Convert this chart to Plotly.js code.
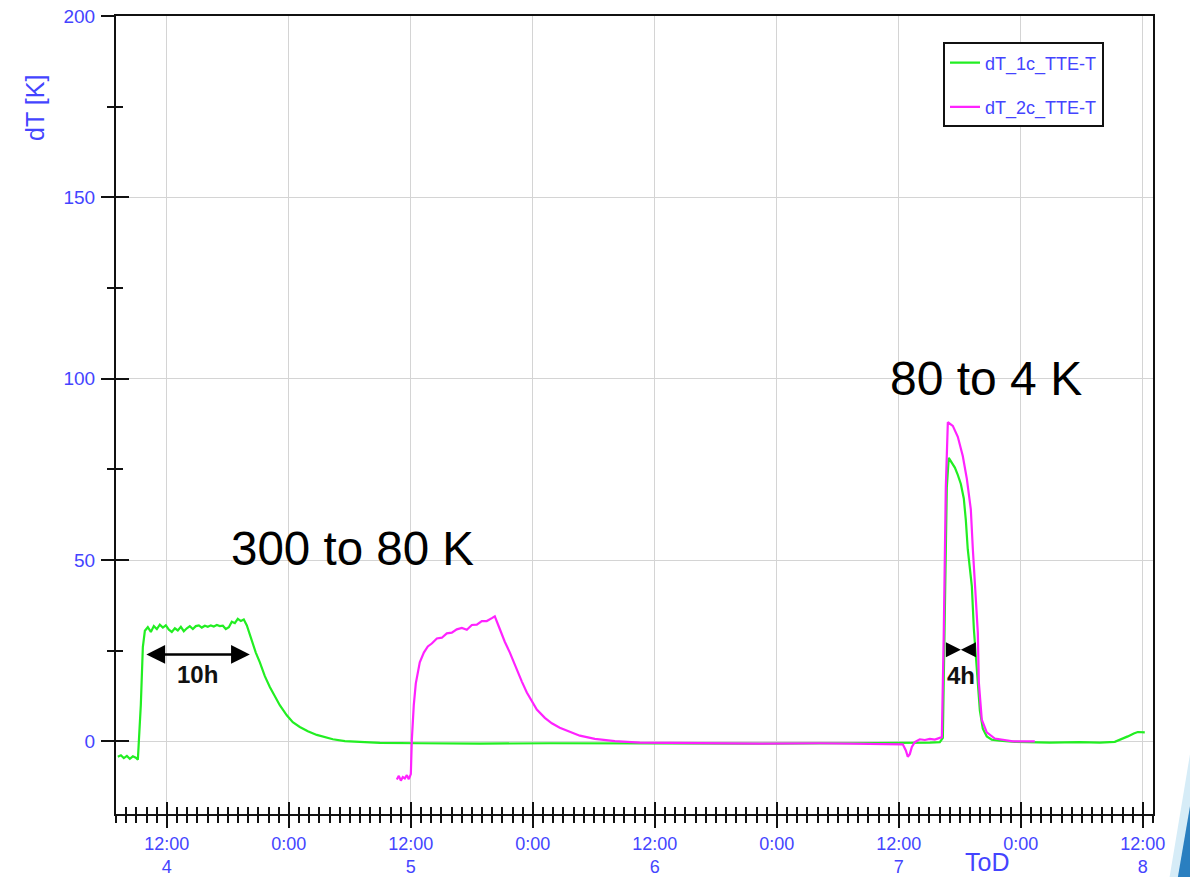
<!DOCTYPE html>
<html>
<head>
<meta charset="utf-8">
<script src="https://cdn.plot.ly/plotly-3.0.1.min.js"></script>
<style>html,body{margin:0;padding:0;background:#fff;}#chart{width:1190px;height:877px;}</style>
</head>
<body>
<div id="chart"></div>
<script>
// Time is given in hours counted from day 4, 00:00
const greenHours = [7.18,7.48,7.77,8.07,8.36,8.66,8.95,9.15,9.44,9.64,9.84,10.13,10.43,10.72,11.02,11.31,11.61,11.90,12.20,12.49,12.79,13.08,13.38,13.67,13.97,14.26,14.56,14.85,15.15,15.44,15.74,16.03,16.33,16.62,16.92,17.21,17.51,17.80,18.10,18.39,18.69,18.98,19.28,19.57,19.87,20.16,20.46,20.75,21.15,21.64,22.13,22.62,23.11,23.80,24.39,25.08,25.87,26.75,27.54,28.33,29.51,30.98,32.95,36.88,42.79,49.67,59.51,69.34,79.18,84.59,87.05,88.03,88.33,88.52,88.72,88.91,89.21,89.51,89.80,90.10,90.39,90.59,90.78,90.98,91.18,91.38,91.57,91.77,91.97,92.26,92.65,93.14,93.93,95.41,98.85,101.80,103.77,105.24,105.93,106.52,107.11,107.50,108.19];
const greenValues = [-4.2,-3.8,-4.6,-4.0,-4.8,-4.1,-4.5,-5.0,10,26,30.5,31.5,30.2,31.8,31.0,32.2,31.4,32.0,30.8,30.2,31.2,30.6,31.6,30.4,31.2,31.8,31.0,31.8,32.0,31.4,31.9,31.6,32.0,31.7,32.1,31.8,31.9,31.0,31.5,33.0,32.6,33.8,33.2,33.6,32.0,29.5,27.0,24.5,21.8,18.0,15.0,12.3,10.0,7.2,5.3,4.0,2.8,1.8,1.1,0.6,0.1,-0.2,-0.4,-0.5,-0.6,-0.5,-0.6,-0.6,-0.5,-0.5,-0.3,-0.2,1.0,35,70,78.2,77.0,75.5,73.5,71.0,67.0,61.0,53.0,48.0,42.8,31.0,23.0,15.0,8.5,3.5,1.4,0.5,0.2,-0.1,-0.3,-0.2,-0.3,-0.1,0.6,1.4,2.2,2.6,2.5];

const magentaHours = [34.62,34.82,35.02,35.21,35.41,35.61,35.80,36.00,36.10,36.29,36.49,36.88,37.28,37.67,38.06,38.56,39.05,39.54,40.03,40.52,41.02,41.51,42.00,42.49,42.98,43.47,43.97,44.26,44.75,45.24,45.74,46.43,46.92,47.41,47.90,48.39,49.18,49.87,50.65,51.64,52.62,54.10,56.06,58.52,64.42,70.33,76.23,82.13,84.39,84.69,84.88,85.08,85.28,85.57,86.06,86.56,87.05,87.54,88.03,88.23,88.42,88.62,88.82,89.31,89.80,90.29,90.69,91.08,91.28,91.57,91.77,91.87,92.16,92.65,93.44,95.21,97.37];
const magentaValues = [-10.5,-9.5,-10.8,-9.8,-10.2,-9.3,-10.4,-9.0,0.5,10.0,16.0,21.8,24.5,26.2,27.0,28.4,28.6,29.8,30.0,30.9,31.3,30.8,32.1,32.2,33.2,33.2,34.0,34.5,31.0,27.5,24.5,19.5,16.5,13.5,11.0,8.8,6.5,5.0,3.8,2.6,1.6,0.7,0.1,-0.3,-0.5,-0.6,-0.5,-0.6,-0.8,-2.5,-4.2,-3.5,-1.5,-0.2,0.6,0.4,0.7,0.5,1.0,1.2,30,70,88.0,87.0,84.0,78.7,72.4,64.0,53.0,41.0,30.0,16.3,6.0,2.5,0.8,0.0,0.0];

const seriesNames = ['dT_1c_TTE-T', 'dT_2c_TTE-T'];
const xTickHours = [12,24,36,48,60,72,84,96,108];
const xTickText = ['12:00<br>4','0:00','12:00<br>5','0:00','12:00<br>6','0:00','12:00<br>7','0:00','12:00<br>8'];
const yTickValues = [0,50,100,150,200];
const xRangeHours = [7,109];
const yRange = [-20,200];

function toDate(h){
  const ms = Date.UTC(2011,2,4) + Math.round(h*3600000);
  return new Date(ms).toISOString().slice(0,19).replace('T',' ');
}
const xRange = xRangeHours.map(toDate);
const xTicks = xTickHours.map(toDate);

const BLUE = '#4444ff';
const FONT = 'Arial, "Liberation Sans", sans-serif';

const traces = [
  {x: greenHours.map(toDate), y: greenValues, name: seriesNames[0], type:'scatter', mode:'lines',
   line:{color:'#22ee22', width:2.2}, legendgroup:'a'},
  {x: magentaHours.map(toDate), y: magentaValues, name: seriesNames[1], type:'scatter', mode:'lines',
   line:{color:'#ff22ff', width:2.2}, legendgroup:'b'},
  {x: [], y: [], xaxis:'x2', yaxis:'y', showlegend:false, hoverinfo:'skip'},
  {x: [], y: [], xaxis:'x', yaxis:'y2', showlegend:false, hoverinfo:'skip'}
];

const layout = {
  width:1190, height:877,
  margin:{l:116, r:37, t:16, b:63},
  paper_bgcolor:'#fff', plot_bgcolor:'#fff',
  font:{family:FONT, size:19, color:BLUE},
  showlegend:true,
  legend:{x:0.7975, y:0.967, xanchor:'left', yanchor:'top', bgcolor:'#fff', bordercolor:'#111', borderwidth:2,
          font:{family:FONT, size:18, color:BLUE}, traceorder:'grouped', tracegroupgap:18, itemwidth:30},
  xaxis:{type:'date', range:xRange, tickmode:'array', tickvals:xTicks, ticktext:xTickText,
         ticks:'outside', ticklen:12, tickwidth:2, tickcolor:'#111',
         showline:true, linecolor:'#111', linewidth:2, mirror:true,
         showgrid:true, gridcolor:'#d4d4d4', gridwidth:1, zeroline:false,
         tickfont:{family:FONT, size:18, color:BLUE},
         minor:{dtick:3600000, tick0:toDate(0), ticks:'outside', ticklen:7, tickwidth:2, tickcolor:'#111', showgrid:false}},
  xaxis2:{type:'date', overlaying:'x', anchor:'y', side:'bottom', range:xRange, tickmode:'array', tickvals:xTicks,
          showticklabels:false, ticks:'inside', ticklen:12, tickwidth:2, tickcolor:'#111',
          showline:false, showgrid:false, zeroline:false,
          minor:{dtick:3600000, tick0:toDate(0), ticks:'inside', ticklen:7, tickwidth:2, tickcolor:'#111', showgrid:false}},
  yaxis:{range:yRange, tickmode:'array', tickvals:yTickValues,
         ticks:'outside', ticklen:13, tickwidth:2, tickcolor:'#111',
         showline:true, linecolor:'#111', linewidth:2, mirror:true,
         showgrid:true, gridcolor:'#d4d4d4', gridwidth:1, zeroline:false,
         tickfont:{family:FONT, size:19, color:BLUE}, ticklabelstandoff:2,
         minor:{dtick:25, tick0:0, ticks:'outside', ticklen:7, tickwidth:2, tickcolor:'#111', showgrid:false}},
  yaxis2:{range:yRange, overlaying:'y', anchor:'x', side:'left', tickmode:'array', tickvals:yTickValues,
          showticklabels:false, ticks:'inside', ticklen:13, tickwidth:2, tickcolor:'#111',
          showline:false, showgrid:false, zeroline:false,
          minor:{dtick:25, tick0:0, ticks:'inside', ticklen:7, tickwidth:2, tickcolor:'#111', showgrid:false}},
  annotations:[
    {xref:'paper', yref:'paper', x:-0.078, y:0.885, text:'dT [K]', textangle:-90, showarrow:false,
     font:{family:FONT, size:25, color:BLUE}, xanchor:'center', yanchor:'middle'},
    {xref:'paper', yref:'paper', x:0.8395, y:-0.0785, text:'ToD', showarrow:false,
     font:{family:FONT, size:25, color:BLUE}, xanchor:'center', yanchor:'bottom', borderpad:0},
    {x:toDate(30.3), y:53.3, text:'300 to 80 K', showarrow:false, font:{family:FONT, size:47.5, color:'#000'}},
    {x:toDate(92.55), y:100, text:'80 to 4 K', showarrow:false, font:{family:FONT, size:48, color:'#000'}},
    {x:toDate(20.16), y:24, ax:toDate(9.84), ay:24, axref:'x', ayref:'y', text:'', showarrow:true,
     arrowside:'end+start', arrowhead:2, arrowsize:1.5, arrowwidth:2.5, arrowcolor:'#000'},
    {x:toDate(15.05), y:18.5, text:'<b>10h</b>', showarrow:false, font:{family:FONT, size:24, color:'#111'}},
    {x:toDate(90.1), y:25.3, ax:toDate(88.82), ay:25.3, axref:'x', ayref:'y', text:'', showarrow:true,
     arrowhead:2, arrowsize:1.2, arrowwidth:2.5, arrowcolor:'#000'},
    {x:toDate(90.1), y:25.3, ax:toDate(91.48), ay:25.3, axref:'x', ayref:'y', text:'', showarrow:true,
     arrowhead:2, arrowsize:1.2, arrowwidth:2.5, arrowcolor:'#000'},
    {x:toDate(90.1), y:18.2, text:'<b>4h</b>', showarrow:false, font:{family:FONT, size:24, color:'#111'}}
  ],
  shapes:[
    {type:'path', xref:'paper', yref:'paper', path:'M 1.016 -0.079 L 1.0357 0.075 L 1.0357 -0.079 Z',
     fillcolor:'#d6ecf7', line:{width:0}},
    {type:'path', xref:'paper', yref:'paper', path:'M 1.024 -0.079 L 1.0357 0.01 L 1.0357 -0.079 Z',
     fillcolor:'#2a7fc0', line:{width:0}}
  ]
};

Plotly.newPlot('chart', traces, layout, {displayModeBar:false, staticPlot:true});
</script>
</body>
</html>
